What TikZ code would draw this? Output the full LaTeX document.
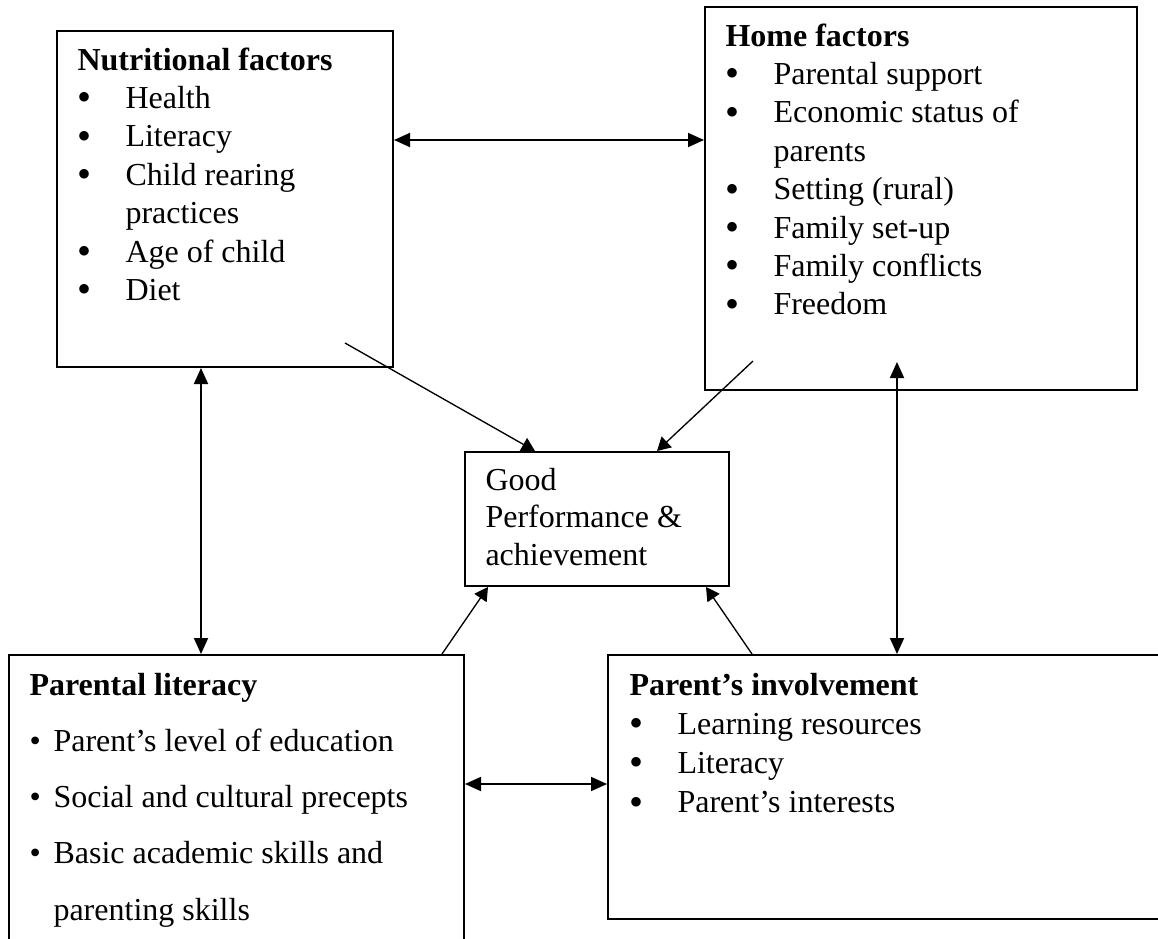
\documentclass[tikz,border=0pt]{standalone}
\usepackage{fontspec}
\setmainfont{Liberation Serif}
\usetikzlibrary{arrows.meta,fit}
\newcommand{\bul}{\makebox[18pt][l]{\raisebox{-0.9pt}{\fontsize{15}{14.4}\selectfont •}}}
\newcommand{\sbul}{\makebox[9pt][l]{•}}
\begin{document}
\begin{tikzpicture}[x=0.375pt,y=-0.375pt,
  box/.style={draw, line width=0.75pt, inner sep=0pt},
  txt/.style={anchor=base west, inner sep=0pt, font=\fontsize{12}{14.4}\selectfont},
  dbl/.style={line width=0.7pt, {Triangle[length=6pt,width=5.25pt]}-{Triangle[length=6pt,width=5.25pt]}},
  one/.style={line width=0.5pt, -{Triangle[length=5pt,width=5.5pt]}}]
\useasboundingbox (0,0) rectangle (1158,939);
\clip (0,0) rectangle (1158,939);
% boxes
\node[box, fit={(57,31)(393,367)}] (nut) {};
\node[box, fit={(705,7)(1137,390)}] (home) {};
\node[box, fit={(465,452)(729,586)}] (good) {};
\node[box, fit={(9,655)(464,975)}] (plit) {};
\node[box, fit={(608,655)(1175,919)}] (inv) {};
% texts
\node[txt] (nutT) at (77,70) {\begin{tabular}[t]{@{}l@{}}\textbf{Nutritional factors}\\ \bul Health\\ \bul Literacy\\ \bul Child rearing\\ \hspace*{18pt}practices\\ \bul Age of child\\ \bul Diet\end{tabular}};
\node[txt] (homeT) at (725,46) {\begin{tabular}[t]{@{}l@{}}\textbf{Home factors}\\ \bul Parental support\\ \bul Economic status of\\ \hspace*{18pt}parents\\ \bul Setting (rural)\\ \bul Family set-up\\ \bul Family conflicts\\ \bul Freedom\end{tabular}};
\node[txt, font=\fontsize{12}{14.1}\selectfont] (goodT) at (485,490) {\begin{tabular}[t]{@{}l@{}}Good\\ Performance \&\\ achievement\end{tabular}};
\node[txt, font=\fontsize{12}{21.1}\selectfont] (plitT) at (29,695) {\begin{tabular}[t]{@{}l@{}}\textbf{Parental literacy}\\ \sbul Parent’s level of education\\ \sbul Social and cultural precepts\\ \sbul Basic academic skills and\\ \hspace*{9pt}parenting skills\end{tabular}};
\node[txt, font=\fontsize{12}{14.7}\selectfont] (invT) at (629,695) {\begin{tabular}[t]{@{}l@{}}\textbf{Parent’s involvement}\\ \bul Learning resources\\ \bul Literacy\\ \bul Parent’s interests\end{tabular}};
% connectors
\coordinate (n1) at (345,343);
\coordinate (h1) at (753,361);
\coordinate (hu) at (897,362);
\draw[dbl] (nut.north east |- 0,140) -- (home.north west |- 0,140);
\draw[dbl] (nut.south -| 201,0) -- (plit.north -| 201,0);
\draw[dbl] (hu) -- (inv.north -| hu);
\draw[dbl] (plit.east |- 0,784) -- (inv.west |- 0,784);
\draw[one] (n1) -- (good.north -| 535,0);
\draw[one] (h1) -- (good.north -| 657,0);
\draw[one] (plit.north -| 442,0) -- (good.south -| 488,0);
\draw[one] (inv.north -| 752,0) -- (good.south -| 706,0);
\end{tikzpicture}
\end{document}
